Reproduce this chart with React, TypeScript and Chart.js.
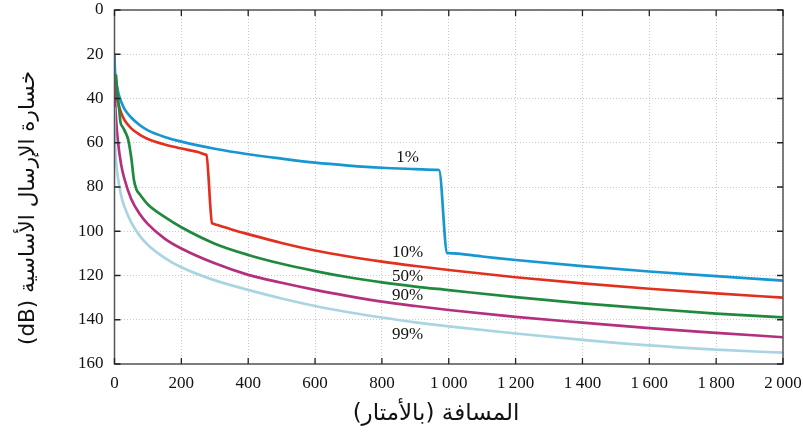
import React, { useEffect, useRef } from "react";
import { Chart, registerables } from "chart.js";

Chart.register(...registerables);

// ---- data (distance in m, basic transmission loss in dB) ----
const xTicks = [0, 200, 400, 600, 800, 1000, 1200, 1400, 1600, 1800, 2000];
const yTicks = [0, 20, 40, 60, 80, 100, 120, 140, 160];

const p1X = [0, 1, 4.5, 10, 16, 20, 30, 50, 75, 100, 150, 200, 300, 400, 500, 600, 700, 800, 900, 965, 971, 995, 1000, 1100, 1200, 1400, 1600, 1800, 2000];
const p1Y = [20, 26, 31.5, 36.5, 39.9, 41.5, 44.8, 48.6, 52, 54.4, 57.4, 59.5, 62.7, 65.2, 67.2, 69, 70.3, 71.3, 71.9, 72.25, 72.3, 109.8, 109.9, 111.4, 113, 115.8, 118.2, 120.3, 122.3];

const p10X = [0, 1, 4, 10, 20, 30, 50, 75, 100, 150, 200, 250, 270, 275, 292, 296, 300, 350, 400, 500, 600, 700, 800, 900, 1000, 1200, 1400, 1600, 1800, 2000];
const p10Y = [30, 33, 37, 41.5, 46.5, 49.8, 53.5, 56.3, 58.3, 60.8, 62.6, 64.2, 65.25, 65.5, 96.4, 96.6, 96.8, 99.2, 101.3, 105.3, 108.7, 111.4, 113.7, 115.7, 117.5, 120.8, 123.6, 126, 128.1, 130];

const p50X = [4.5, 7.5, 10, 14, 18, 25, 36, 41, 51, 58, 66, 75, 100, 150, 200, 300, 400, 500, 600, 700, 800, 900, 1000, 1200, 1400, 1600, 1800, 2000];
const p50Y = [29.2, 36, 40, 45, 50.8, 53, 56.4, 58.6, 67.7, 76.7, 81.2, 83.2, 87.9, 93.5, 98.2, 105.6, 110.7, 114.7, 118, 120.8, 123.1, 125, 126.6, 129.8, 132.6, 135, 137.2, 138.9];

const p90X = [0, 2, 5, 10, 20, 30, 50, 75, 100, 150, 200, 300, 400, 500, 600, 700, 800, 900, 1000, 1200, 1400, 1600, 1800, 2000];
const p90Y = [33, 42, 50, 59, 70, 76.5, 85.4, 92.1, 96.8, 103.3, 107.8, 114.5, 119.7, 123.3, 126.5, 129.3, 131.8, 133.8, 135.6, 138.7, 141.3, 143.8, 145.9, 147.9];

const p99X = [0, 1, 2, 5, 10, 20, 30, 50, 75, 100, 150, 200, 300, 400, 500, 600, 700, 800, 900, 1000, 1200, 1400, 1600, 1800, 2000];
const p99Y = [44, 55, 62, 69, 75.5, 84, 89, 96, 102, 106.2, 112, 116.3, 122.2, 126.5, 130.4, 133.8, 136.6, 139, 141.2, 143, 146.2, 149.1, 151.6, 153.5, 154.9];

const seriesNames = ["1%", "10%", "50%", "90%", "99%"];
const seriesColors = ["#1796d2", "#e2301f", "#1f8a3e", "#b4307e", "#a9d5e2"];
const labelX = [877, 877, 877, 877, 877];
const labelY = [66.6, 109.8, 120.4, 129, 146.8];

const xTitle = "المسافة (بالأمتار)";
const yTitle = "خسارة الإرسال الأساسية (dB)";

const SERIF = "'Liberation Serif', 'DejaVu Serif', serif";
const ARABIC = "'DejaVu Sans', 'Liberation Serif', serif";

function pts(xs: number[], ys: number[]) {
  return xs.map((x, i) => ({ x, y: ys[i] }));
}

const overlayPlugin = {
  id: "overlay",
  afterDatasetsDraw(chart: any) {
    const { ctx, chartArea: a, scales } = chart;
    const xs = scales.x;
    const ys = scales.y;
    ctx.save();
    // frame
    ctx.strokeStyle = "#555";
    ctx.lineWidth = 1.5;
    ctx.strokeRect(a.left, a.top, a.right - a.left, a.bottom - a.top);
    // inner ticks
    ctx.strokeStyle = "#222";
    ctx.lineWidth = 1.3;
    const tl = 6;
    ctx.beginPath();
    for (const v of xTicks) {
      const px = xs.getPixelForValue(v);
      ctx.moveTo(px, a.bottom);
      ctx.lineTo(px, a.bottom - tl);
      ctx.moveTo(px, a.top);
      ctx.lineTo(px, a.top + tl);
    }
    for (const v of yTicks) {
      const py = ys.getPixelForValue(v);
      ctx.moveTo(a.left, py);
      ctx.lineTo(a.left + tl, py);
      ctx.moveTo(a.right, py);
      ctx.lineTo(a.right - tl, py);
    }
    ctx.stroke();
    // series labels
    ctx.fillStyle = "#111";
    ctx.font = `17px ${SERIF}`;
    ctx.textAlign = "center";
    ctx.textBaseline = "middle";
    seriesNames.forEach((n, i) => {
      ctx.fillText(n, xs.getPixelForValue(labelX[i]), ys.getPixelForValue(labelY[i]));
    });
    // axis titles (RTL)
    ctx.direction = "rtl";
    ctx.textAlign = "center";
    ctx.font = `23px ${ARABIC}`;
    ctx.fillText(xTitle, 436, 414);
    ctx.translate(28, 208);
    ctx.rotate(-Math.PI / 2);
    ctx.font = `21.5px ${ARABIC}`;
    ctx.fillText(yTitle, 0, 0);
    ctx.restore();
  },
};

export default function App() {
  const ref = useRef<HTMLCanvasElement | null>(null);
  useEffect(() => {
    document.body.style.margin = "0";
    const datasets = [
      pts(p1X, p1Y),
      pts(p10X, p10Y),
      pts(p50X, p50Y),
      pts(p90X, p90Y),
      pts(p99X, p99Y),
    ].map((d, i) => ({
      label: seriesNames[i],
      data: d,
      borderColor: seriesColors[i],
      backgroundColor: seriesColors[i],
      borderWidth: 2.7,
      pointRadius: 0,
      cubicInterpolationMode: "monotone" as const,
      fill: false,
    }));
    const chart = new Chart(ref.current as HTMLCanvasElement, {
      type: "line",
      data: { datasets: datasets.reverse() },
      options: {
        animation: false,
        responsive: false,
        layout: { padding: { top: 10, right: 20, left: 0, bottom: 0 } },
        plugins: { legend: { display: false }, tooltip: { enabled: false } },
        scales: {
          x: {
            type: "linear",
            min: 0,
            max: 2000,
            afterBuildTicks: (s: any) => {
              s.ticks = xTicks.map((v) => ({ value: v }));
            },
            afterFit: (s: any) => {
              s.height = 79;
              s.paddingLeft = 0;
              s.paddingRight = 0;
            },
            ticks: {
              font: { family: SERIF, size: 17 },
              color: "#111",
              padding: 9,
              maxRotation: 0,
              callback: (v: any) => {
                const n = Number(v);
                return n >= 1000 ? `${Math.floor(n / 1000)}\u2009${String(n % 1000).padStart(3, "0")}` : String(n);
              },
            },
            grid: { color: "#c9c9c9", lineWidth: 1, drawTicks: false },
            border: { display: false, dash: [1, 2] },
          },
          y: {
            type: "linear",
            reverse: true,
            min: 0,
            max: 160,
            afterBuildTicks: (s: any) => {
              s.ticks = yTicks.map((v) => ({ value: v }));
            },
            afterFit: (s: any) => {
              s.width = 114.5;
              s.paddingTop = 0;
              s.paddingBottom = 0;
            },
            ticks: {
              font: { family: SERIF, size: 17 },
              color: "#111",
              padding: 11,
            },
            grid: { color: "#c9c9c9", lineWidth: 1, drawTicks: false },
            border: { display: false, dash: [1, 2] },
          },
        },
      },
      plugins: [overlayPlugin],
    });
    return () => chart.destroy();
  }, []);
  return (
    <div style={{ position: "absolute", left: 0, top: 0, width: 803, height: 443, background: "#fff" }}>
      <canvas ref={ref} width={803} height={443} />
    </div>
  );
}
